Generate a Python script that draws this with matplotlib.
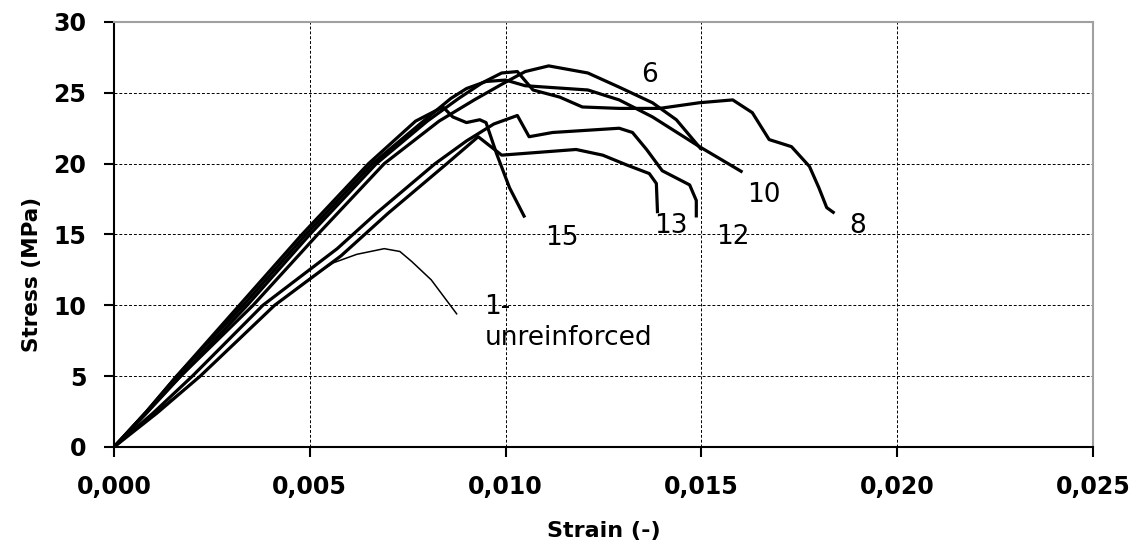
import matplotlib.pyplot as plt
from matplotlib.ticker import FuncFormatter, MultipleLocator

plt.rcParams['font.family'] = ['DejaVu Sans']

# strain (-) / stress (MPa), one pair of lists per specimen
strain_1 = [0.0, 0.0010, 0.0022, 0.0032, 0.0041, 0.0050, 0.0056, 0.0062, 0.0069,
            0.0073, 0.0076, 0.0081, 0.00875]
stress_1 = [0.0, 2.3, 5.0, 7.6, 10.0, 11.9, 13.0, 13.6, 14.0, 13.8, 13.1, 11.8, 9.4]

strain_6 = [0.0, 0.0008, 0.0017, 0.00355, 0.0052, 0.0069, 0.0083, 0.0092, 0.0099,
            0.0105, 0.0111, 0.0121, 0.0129, 0.01375, 0.01436, 0.0150]
stress_6 = [0.0, 2.3, 5.0, 10.0, 15.0, 20.0, 23.0, 24.5, 25.6, 26.5, 26.9, 26.4,
            25.4, 24.3, 23.1, 21.0]

strain_8 = [0.0, 0.0008, 0.0017, 0.0034, 0.0050, 0.0067, 0.0080, 0.0088, 0.0094,
            0.0099, 0.0103, 0.0107, 0.01138, 0.01196, 0.0129, 0.01393, 0.01495,
            0.0158, 0.0163, 0.01673, 0.0173, 0.01776, 0.0180, 0.0182, 0.0184]
stress_8 = [0.0, 2.4, 5.0, 10.0, 15.0, 20.0, 23.0, 24.6, 25.7, 26.4, 26.5, 25.2,
            24.7, 24.0, 23.9, 23.9, 24.3, 24.5, 23.6, 21.7, 21.2, 19.8, 18.3, 16.9, 16.5]

strain_10 = [0.0, 0.0008, 0.0016, 0.0033, 0.0049, 0.0066, 0.0079, 0.0086, 0.0090,
             0.0095, 0.0100, 0.0105, 0.0121, 0.0129, 0.01375, 0.01495, 0.01605]
stress_10 = [0.0, 2.4, 5.0, 10.0, 15.0, 20.0, 23.0, 24.6, 25.3, 25.8, 25.9, 25.5,
             25.2, 24.5, 23.3, 21.2, 19.4]

strain_12 = [0.0, 0.0010, 0.0020, 0.0038, 0.0057, 0.0067, 0.0082, 0.0090, 0.0097,
             0.0103, 0.0106, 0.0112, 0.0129, 0.01324, 0.0136, 0.0140, 0.0147,
             0.01487, 0.01487]
stress_12 = [0.0, 2.4, 5.0, 10.0, 14.0, 16.5, 20.0, 21.6, 22.8, 23.4, 21.9, 22.2,
             22.5, 22.2, 21.0, 19.5, 18.5, 17.4, 16.2]

strain_13 = [0.0, 0.0011, 0.0022, 0.0041, 0.0058, 0.0070, 0.0085, 0.0093, 0.0099,
             0.0118, 0.01248, 0.0131, 0.01367, 0.01385, 0.01388]
stress_13 = [0.0, 2.4, 5.0, 10.0, 13.5, 16.5, 20.0, 21.9, 20.6, 21.0, 20.6, 19.9,
             19.3, 18.6, 16.5]

strain_15 = [0.0, 0.0008, 0.0016, 0.0032, 0.0048, 0.0065, 0.0077, 0.0084, 0.00865,
             0.0090, 0.00934, 0.0095, 0.00977, 0.0101, 0.01049]
stress_15 = [0.0, 2.4, 5.0, 10.0, 15.0, 20.0, 23.0, 24.0, 23.3, 22.9, 23.1, 22.9,
             20.7, 18.3, 16.2]

# curve labels: text, strain, stress
labels = [("6", 0.01367, 26.25), ("10", 0.0166, 17.8), ("8", 0.0190, 15.6),
          ("12", 0.0158, 14.8), ("13", 0.01423, 15.6), ("15", 0.01143, 14.75)]

fig = plt.figure(figsize=(11.39, 5.55), dpi=100)
ax = fig.add_axes([0.1001, 0.1946, 0.8595, 0.7658])

thick = [(strain_6, stress_6), (strain_8, stress_8), (strain_10, stress_10),
         (strain_12, stress_12), (strain_13, stress_13), (strain_15, stress_15)]
for xs, ys in thick:
    ax.plot(xs, ys, color='black', lw=2.3, solid_capstyle='butt', zorder=3)
ax.plot(strain_1, stress_1, color='black', lw=1.1, zorder=3)

for txt, x, y in labels:
    ax.text(x, y, txt, fontsize=19, ha='center', va='center')
ax.text(0.00946, 10.8, "1-\nunreinforced", fontsize=19, ha='left', va='top',
        linespacing=1.25)

ax.set_xlim(0, 0.025)
ax.set_ylim(0, 30)
ax.xaxis.set_major_locator(MultipleLocator(0.005))
ax.yaxis.set_major_locator(MultipleLocator(5))
ax.xaxis.set_major_formatter(FuncFormatter(lambda v, p: f"{v:.3f}".replace('.', ',')))
ax.yaxis.set_major_formatter(FuncFormatter(lambda v, p: f"{v:.0f}"))

ax.grid(True, color='black', linestyle=(0, (3, 2)), linewidth=0.7)
ax.set_axisbelow(True)

for side in ['left', 'bottom']:
    ax.spines[side].set_color('black')
    ax.spines[side].set_linewidth(1.5)
for side in ['top', 'right']:
    ax.spines[side].set_color('#a0a0a0')
    ax.spines[side].set_linewidth(1.5)

ax.tick_params(axis='both', direction='out', length=7, width=1.5, labelsize=17, pad=13)
for lab in ax.get_xticklabels() + ax.get_yticklabels():
    lab.set_fontweight('bold')

ax.set_xlabel("Strain (-)", fontsize=16, fontweight='bold', labelpad=16)
ax.set_ylabel("Stress (MPa)", fontsize=15.5, fontweight='bold')
ax.yaxis.set_label_coords(-0.0735, 0.407)

fig.savefig("out.png", dpi=100)
